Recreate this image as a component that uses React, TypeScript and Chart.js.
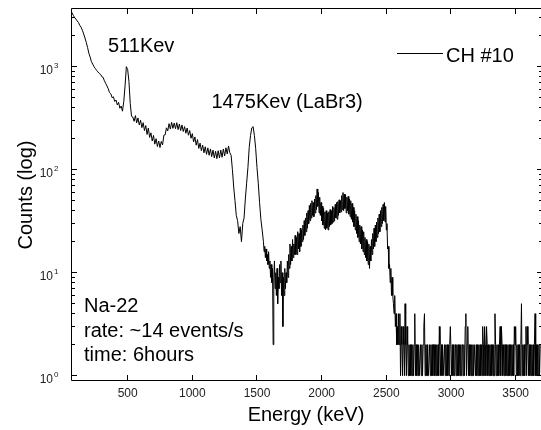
import React, { useEffect, useRef } from 'react';
import { Chart, registerables } from 'chart.js';

Chart.register(...registerables);

// ---- data ----
// channel energies (keV): 10 keV channels up to 1540, then 5 keV channels
const energies = [
  70, 80, 90, 100, 110, 120, 130, 140, 150, 160,
  170, 180, 190, 200, 210, 220, 230, 240, 250, 260,
  270, 280, 290, 300, 310, 320, 330, 340, 350, 360,
  370, 380, 390, 400, 410, 420, 430, 440, 450, 460,
  470, 480, 490, 500, 510, 520, 530, 540, 550, 560,
  570, 580, 590, 600, 610, 620, 630, 640, 650, 660,
  670, 680, 690, 700, 710, 720, 730, 740, 750, 760,
  770, 780, 790, 800, 810, 820, 830, 840, 850, 860,
  870, 880, 890, 900, 910, 920, 930, 940, 950, 960,
  970, 980, 990, 1000, 1010, 1020, 1030, 1040, 1050, 1060,
  1070, 1080, 1090, 1100, 1110, 1120, 1130, 1140, 1150, 1160,
  1170, 1180, 1190, 1200, 1210, 1220, 1230, 1240, 1250, 1260,
  1270, 1280, 1290, 1300, 1310, 1320, 1330, 1340, 1350, 1360,
  1370, 1380, 1390, 1400, 1410, 1420, 1430, 1440, 1450, 1460,
  1470, 1480, 1490, 1500, 1510, 1520, 1530, 1540,
  1550, 1555, 1560, 1565, 1570, 1575, 1580, 1585, 1590, 1595,
  1600, 1605, 1610, 1615, 1620, 1625, 1630, 1635, 1640, 1645,
  1650, 1655, 1660, 1665, 1670, 1675, 1680, 1685, 1690, 1695,
  1700, 1705, 1710, 1715, 1720, 1725, 1730, 1735, 1740, 1745,
  1750, 1755, 1760, 1765, 1770, 1775, 1780, 1785, 1790, 1795,
  1800, 1805, 1810, 1815, 1820, 1825, 1830, 1835, 1840, 1845,
  1850, 1855, 1860, 1865, 1870, 1875, 1880, 1885, 1890, 1895,
  1900, 1905, 1910, 1915, 1920, 1925, 1930, 1935, 1940, 1945,
  1950, 1955, 1960, 1965, 1970, 1975, 1980, 1985, 1990, 1995,
  2000, 2005, 2010, 2015, 2020, 2025, 2030, 2035, 2040, 2045,
  2050, 2055, 2060, 2065, 2070, 2075, 2080, 2085, 2090, 2095,
  2100, 2105, 2110, 2115, 2120, 2125, 2130, 2135, 2140, 2145,
  2150, 2155, 2160, 2165, 2170, 2175, 2180, 2185, 2190, 2195,
  2200, 2205, 2210, 2215, 2220, 2225, 2230, 2235, 2240, 2245,
  2250, 2255, 2260, 2265, 2270, 2275, 2280, 2285, 2290, 2295,
  2300, 2305, 2310, 2315, 2320, 2325, 2330, 2335, 2340, 2345,
  2350, 2355, 2360, 2365, 2370, 2375, 2380, 2385, 2390, 2395,
  2400, 2405, 2410, 2415, 2420, 2425, 2430, 2435, 2440, 2445,
  2450, 2455, 2460, 2465, 2470, 2475, 2480, 2485, 2490, 2495,
  2500, 2505, 2510, 2515, 2520, 2525, 2530, 2535, 2540, 2545,
  2550, 2555, 2560, 2565, 2570, 2575, 2580, 2585, 2590, 2595,
  2600, 2605, 2610, 2615, 2620, 2625, 2630, 2635, 2640, 2645,
  2650, 2655, 2660, 2665, 2670, 2675, 2680, 2685, 2690, 2695,
  2700, 2705, 2710, 2715, 2720, 2725, 2730, 2735, 2740, 2745,
  2750, 2755, 2760, 2765, 2770, 2775, 2780, 2785, 2790, 2795,
  2800, 2805, 2810, 2815, 2820, 2825, 2830, 2835, 2840, 2845,
  2850, 2855, 2860, 2865, 2870, 2875, 2880, 2885, 2890, 2895,
  2900, 2905, 2910, 2915, 2920, 2925, 2930, 2935, 2940, 2945,
  2950, 2955, 2960, 2965, 2970, 2975, 2980, 2985, 2990, 2995,
  3000, 3005, 3010, 3015, 3020, 3025, 3030, 3035, 3040, 3045,
  3050, 3055, 3060, 3065, 3070, 3075, 3080, 3085, 3090, 3095,
  3100, 3105, 3110, 3115, 3120, 3125, 3130, 3135, 3140, 3145,
  3150, 3155, 3160, 3165, 3170, 3175, 3180, 3185, 3190, 3195,
  3200, 3205, 3210, 3215, 3220, 3225, 3230, 3235, 3240, 3245,
  3250, 3255, 3260, 3265, 3270, 3275, 3280, 3285, 3290, 3295,
  3300, 3305, 3310, 3315, 3320, 3325, 3330, 3335, 3340, 3345,
  3350, 3355, 3360, 3365, 3370, 3375, 3380, 3385, 3390, 3395,
  3400, 3405, 3410, 3415, 3420, 3425, 3430, 3435, 3440, 3445,
  3450, 3455, 3460, 3465, 3470, 3475, 3480, 3485, 3490, 3495,
  3500, 3505, 3510, 3515, 3520, 3525, 3530, 3535, 3540, 3545,
  3550, 3555, 3560, 3565, 3570, 3575, 3580, 3585, 3590, 3595,
  3600, 3605, 3610, 3615, 3620, 3625, 3630, 3635, 3640, 3645,
  3650, 3655, 3660, 3665, 3670, 3675, 3680, 3685, 3690,
];

const counts = [
  // 70 - 540 (10 keV)
  3350, 3150, 3000, 2900, 2780, 2680, 2520, 2420, 2250, 2080,
  1900, 1720, 1540, 1350, 1240, 1120, 1060, 1000, 960, 920,
  890, 860, 845, 800, 790, 730, 690, 650, 610, 560,
  545, 500, 510, 460, 475, 425, 450, 395, 415, 370,
  460, 650, 1000, 940, 720, 440, 330, 325,
  // 550 - 1540 (10 keV)
  295, 335, 285, 318, 272, 302, 256, 286, 240, 268,
  220, 254, 206, 228, 190, 215, 177, 200, 168, 190,
  164, 188, 174, 216, 218, 255, 238, 280, 248, 288,
  252, 284, 250, 286, 245, 278, 240, 272, 235, 262,
  226, 254, 216, 240, 202, 224, 186, 208, 173, 196,
  161, 181, 153, 173, 146, 167, 141, 163, 138, 159,
  134, 155, 130, 151, 128, 153, 130, 155, 132, 159,
  136, 163, 142, 170, 146, 138, 100, 68, 50, 36,
  32, 24, 28, 20, 30, 34, 52, 74, 105, 165,
  215, 255, 262, 215, 160, 105, 74, 48, 33, 26,
  // 1550 - 3690 (5 keV)
  20, 16, 18, 14, 17, 13, 15, 12, 16, 11,
  13, 9, 12, 8, 11, 2, 9, 13, 7, 10,
  6, 11, 5, 9, 7, 12, 8, 13, 6, 10,
  3, 9, 6, 11, 7, 10, 8, 13, 9, 15,
  11, 19, 12, 18, 13, 21, 14, 19, 15, 23,
  15, 22, 15, 25, 17, 24, 16, 27, 18, 26,
  20, 29, 21, 32, 23, 34, 25, 38, 27, 40,
  30, 45, 32, 47, 34, 50, 36, 48, 35, 52,
  38, 56, 41, 65, 44, 60, 38, 54, 36, 48,
  32, 44, 29, 42, 27, 39, 26, 40, 27, 38,
  26, 39, 28, 41, 29, 40, 30, 44, 31, 43,
  32, 46, 34, 48, 33, 49, 36, 51, 38, 50,
  39, 56, 41, 60, 40, 58, 42, 57, 38, 54,
  40, 55, 37, 52, 35, 50, 33, 47, 31, 43,
  28, 40, 26, 37, 24, 35, 22, 32, 20, 29,
  19, 28, 17, 26, 16, 25, 15, 22, 14, 21,
  13, 20, 12, 19, 11, 18, 13, 21, 15, 24,
  17, 27, 18, 29, 20, 31, 22, 34, 24, 37,
  25, 40, 28, 43, 30, 46, 32, 48, 31, 44,
  26, 30, 17, 18, 11, 12, 8, 11, 6, 9,
  6, 5, 4, 6, 3, 4, 2, 3, 2, 4,
  2, 4, 1, 3, 2, 1, 3, 2, 1, 5,
  2, 1, 3, 2, 1, 2, 1, 2, 1, 2,
  1, 2, 1, 2, 4, 1, 2, 1, 2, 1,
  2, 1, 1, 2, 1, 2, 1, 2, 3, 4,
  1, 2, 1, 2, 1, 1, 1, 2, 1, 2,
  1, 2, 1, 2, 2, 1, 2, 1, 2, 1,
  2, 1, 3, 2, 1, 2, 1, 2, 1, 1,
  2, 1, 2, 1, 2, 1, 2, 1, 2, 3,
  3, 1, 2, 1, 2, 1, 2, 2, 1, 2,
  1, 2, 1, 2, 1, 2, 1, 2, 2, 1,
  2, 1, 3, 4, 1, 2, 3, 1, 2, 1,
  2, 1, 2, 1, 2, 1, 2, 2, 1, 2,
  1, 2, 1, 2, 1, 2, 1, 2, 1, 3,
  2, 1, 3, 2, 1, 3, 2, 1, 2, 1,
  2, 1, 2, 1, 2, 1, 2, 1, 4, 2,
  1, 2, 1, 2, 1, 2, 3, 1, 3, 2,
  1, 2, 1, 2, 2, 1, 2, 1, 2, 1,
  2, 1, 2, 1, 2, 1, 2, 1, 3, 2,
  3, 1, 2, 1, 2, 1, 2, 1, 2, 5,
  1, 2, 1, 2, 1, 2, 3, 1, 3, 2,
  1, 2, 1, 2, 1, 2, 1, 2, 1, 2,
  4, 1, 2, 1, 2, 1, 2, 1, 2,
];

const seriesLabel = 'CH #10';
const xTicks = [500, 1000, 1500, 2000, 2500, 3000, 3500];
const yMajorTicks = [1, 10, 100, 1000];
const yMajorExponents = ['0', '1', '2', '3'];
const yMinorTicks = [
  2, 3, 4, 5, 6, 7, 8, 9,
  20, 30, 40, 50, 60, 70, 80, 90,
  200, 300, 400, 500, 600, 700, 800, 900,
  2000, 3000,
];
const peakLabels = ['511Kev', '1475Kev (LaBr3)'];
const infoLines = ['Na-22', 'rate: ~14 events/s', 'time: 6hours'];
const xTitle = 'Energy (keV)';
const yTitle = 'Counts (log)';

// axis limits
const X_MIN = 62;
const X_MAX = 3696;
const Y_MIN = 0.908;
const Y_MAX = 3715;

// ---- styling / layout ----
const TEXT_FONT = '20px "Liberation Sans", Arial, Helvetica, sans-serif';
const TICK_FONT = '12px "Liberation Sans Narrow", "Arial Narrow", "Liberation Sans", sans-serif';
const EXP_FONT = '8px "Liberation Sans Narrow", "Arial Narrow", "Liberation Sans", sans-serif';
const PEAK_LABEL_POS = [
  { x: 108, y: 51.5 },
  { x: 211.5, y: 108 },
];
const INFO_POS = { x: 84, y: 312, dy: 24.7 };

const framePlugin = {
  id: 'matlabFrame',
  afterDatasetsDraw(chart: any) {
    const { ctx, chartArea: a } = chart;
    const xs = chart.scales.x;
    const ys = chart.scales.y;
    ctx.save();
    ctx.strokeStyle = '#000';
    ctx.lineWidth = 1;
    ctx.beginPath();
    ctx.moveTo(a.left + 0.5, a.top + 0.5);
    ctx.lineTo(a.left + 0.5, a.bottom + 0.5);
    ctx.lineTo(a.right, a.bottom + 0.5);
    ctx.moveTo(a.left + 0.5, a.top + 0.5);
    ctx.lineTo(a.right, a.top + 0.5);
    xTicks.forEach((v) => {
      const px = Math.floor(xs.getPixelForValue(v)) + 0.5;
      ctx.moveTo(px, a.bottom);
      ctx.lineTo(px, a.bottom - 5);
      ctx.moveTo(px, a.top + 1);
      ctx.lineTo(px, a.top + 6);
    });
    yMajorTicks.forEach((v) => {
      const py = Math.floor(ys.getPixelForValue(v)) + 0.5;
      ctx.moveTo(a.left + 1, py);
      ctx.lineTo(a.left + 6, py);
      ctx.moveTo(a.right, py);
      ctx.lineTo(a.right - 4, py);
    });
    yMinorTicks.forEach((v) => {
      const py = Math.floor(ys.getPixelForValue(v)) + 0.5;
      ctx.moveTo(a.left + 1, py);
      ctx.lineTo(a.left + 4, py);
      ctx.moveTo(a.right, py);
      ctx.lineTo(a.right - 2, py);
    });
    ctx.stroke();

    // tick labels
    ctx.fillStyle = '#222';
    ctx.font = TICK_FONT;
    ctx.textAlign = 'center';
    ctx.textBaseline = 'alphabetic';
    xTicks.forEach((v) => {
      const px = xs.getPixelForValue(v);
      ctx.fillText(String(v), px, a.bottom + 17);
    });
    yMajorTicks.forEach((v, i) => {
      const py = ys.getPixelForValue(v);
      ctx.font = TICK_FONT;
      ctx.textAlign = 'right';
      ctx.fillText('10', a.left - 18, py + 7.5);
      ctx.font = EXP_FONT;
      ctx.textAlign = 'left';
      ctx.fillText(yMajorExponents[i], a.left - 17, py + 1.5);
    });

    // axis titles
    ctx.fillStyle = '#000';
    ctx.font = TEXT_FONT;
    ctx.textAlign = 'center';
    ctx.fillText(xTitle, (a.left + a.right) / 2, 421);
    ctx.save();
    ctx.translate(32, (a.top + a.bottom) / 2 + 1);
    ctx.rotate(-Math.PI / 2);
    ctx.fillText(yTitle, 0, 0);
    ctx.restore();

    // annotations
    ctx.textAlign = 'left';
    peakLabels.forEach((t, i) => {
      ctx.fillText(t, PEAK_LABEL_POS[i].x, PEAK_LABEL_POS[i].y);
    });
    infoLines.forEach((t, i) => {
      ctx.fillText(t, INFO_POS.x, INFO_POS.y + i * INFO_POS.dy);
    });

    // legend
    ctx.beginPath();
    ctx.moveTo(397, 53.5);
    ctx.lineTo(443, 53.5);
    ctx.stroke();
    ctx.fillText(chart.data.datasets[0].label, 446, 62);
    ctx.restore();
  },
};

export default function App() {
  const canvasRef = useRef<HTMLCanvasElement | null>(null);

  useEffect(() => {
    const canvas = canvasRef.current;
    if (!canvas) return;
    const points = energies.map((e, i) => ({ x: e, y: counts[i] }));
    const chart = new Chart(canvas, {
      type: 'line',
      data: {
        datasets: [
          {
            label: seriesLabel,
            data: points,
            borderColor: '#000',
            borderWidth: 1,
            pointRadius: 0,
            tension: 0,
            fill: false,
          },
        ],
      },
      options: {
        animation: false,
        responsive: false,
        devicePixelRatio: 1,
        events: [],
        layout: { padding: { left: 71, right: 0, top: 8, bottom: 50 } },
        plugins: {
          legend: { display: false },
          tooltip: { enabled: false },
          title: { display: false },
        },
        scales: {
          x: {
            type: 'linear',
            min: X_MIN,
            max: X_MAX,
            bounds: 'data',
            display: false,
          },
          y: {
            type: 'logarithmic',
            min: Y_MIN,
            max: Y_MAX,
            bounds: 'data',
            display: false,
          },
        },
      },
      plugins: [framePlugin],
    });
    return () => chart.destroy();
  }, []);

  return (
    <div style={{ position: 'fixed', left: 0, top: 0, width: 541, height: 430, background: '#fff' }}>
      <canvas ref={canvasRef} width={541} height={430} style={{ display: 'block' }} />
    </div>
  );
}
